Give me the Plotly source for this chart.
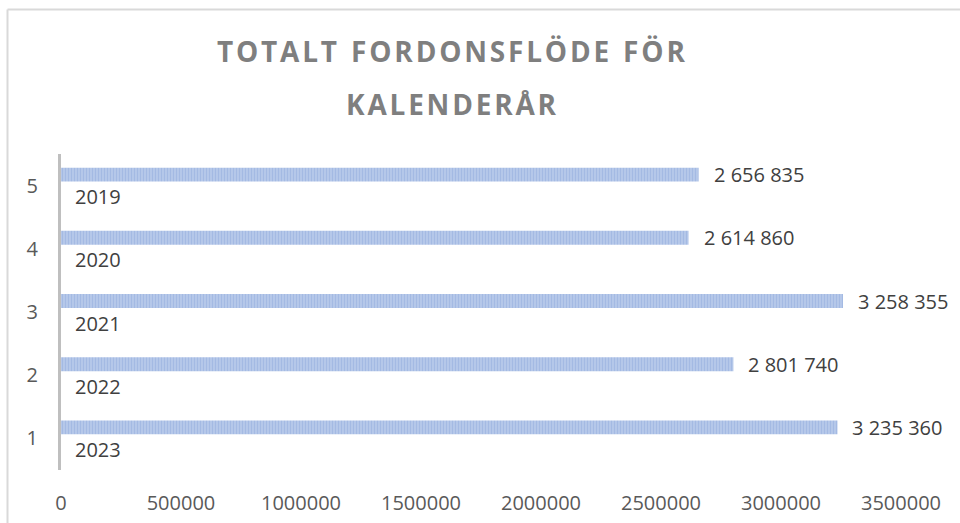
import plotly.graph_objects as go

categories = [1, 2, 3, 4, 5]
years = ["2023", "2022", "2021", "2020", "2019"]
values = [3235360, 2801740, 3258355, 2614860, 2656835]
x_ticks = [0, 500000, 1000000, 1500000, 2000000, 2500000, 3000000, 3500000]

def fmt(v):
    return f"{v:,}".replace(",", " ")

L, R, T, B = 61, 59, 154, 53
W, H = 960, 523
pw, ph = W - L - R, H - T - B
def px_x(p):
    return (p - L) / pw
def px_y(p):
    return (H - B - p) / ph

off = 0.174
font = "Open Sans, Liberation Sans, sans-serif"

fig = go.Figure()
fig.add_trace(go.Bar(
    y=[c + off for c in categories], x=values, orientation="h", width=0.22,
    marker=dict(color="#B4C7E7", line=dict(width=0),
                pattern=dict(shape="|", fgcolor="#8AA6DA", bgcolor="#BFCFEC",
                             size=3, solidity=0.6)),
    hoverinfo="skip", showlegend=False,
))

annotations = []
for c, v, yr in zip(categories, values, years):
    annotations.append(dict(x=v, y=c + off, xref="x", yref="y", text=fmt(v),
                            showarrow=False, xanchor="left", yanchor="middle", xshift=13,
                            font=dict(family=font, size=20, color="#404040")))
    annotations.append(dict(x=0, y=c - off, xref="x", yref="y", text=yr,
                            showarrow=False, xanchor="left", yanchor="middle", xshift=12,
                            font=dict(family=font, size=20, color="#404040")))

annotations.append(dict(x=px_x(451), y=px_y(51), xref="paper", yref="paper",
                        text="<b>T O T A L T   F O R D O N S F L Ö D E   F Ö R</b>".replace(" ", "\u200a").replace("\u200a\u200a\u200a", "\u2002"),
                        showarrow=False, xanchor="center", yanchor="middle",
                        font=dict(family=font, size=28, color="#7F7F7F")))
annotations.append(dict(x=px_x(451), y=px_y(104), xref="paper", yref="paper",
                        text="<b>K A L E N D E R Å R</b>".replace(" ", "\u200a"),
                        showarrow=False, xanchor="center", yanchor="middle",
                        font=dict(family=font, size=28, color="#7F7F7F")))

shapes = [
    dict(type="line", xref="paper", yref="paper", x0=px_x(7.5), x1=px_x(1000),
         y0=px_y(9.5), y1=px_y(9.5), line=dict(color="#D9D9D9", width=2)),
    dict(type="line", xref="paper", yref="paper", x0=px_x(7.5), x1=px_x(7.5),
         y0=px_y(9.5), y1=px_y(600), line=dict(color="#D9D9D9", width=2)),
]

fig.update_layout(
    width=W, height=H, margin=dict(l=L, r=R, t=T, b=B, autoexpand=False),
    paper_bgcolor="white", plot_bgcolor="white",
    font=dict(family=font, size=20, color="#595959"),
    annotations=annotations, shapes=shapes, showlegend=False,
    xaxis=dict(range=[0, 3500000], tickvals=x_ticks, ticktext=[str(t) for t in x_ticks],
               showgrid=False, zeroline=False, showline=False, ticks="", automargin=False,
               ticklabelstandoff=19, tickfont=dict(size=20, color="#595959")),
    yaxis=dict(range=[0.5, 5.5], tickvals=categories, ticktext=[str(c) for c in categories],
               showgrid=False, zeroline=False, showline=True, linecolor="#BFBFBF", linewidth=3,
               ticks="", automargin=False,
               ticklabelstandoff=16, tickfont=dict(size=20, color="#595959")),
)

fig.write_html("out.html", config={"displayModeBar": False},
               post_script="document.body.style.margin='0';document.body.style.overflow='hidden';")
